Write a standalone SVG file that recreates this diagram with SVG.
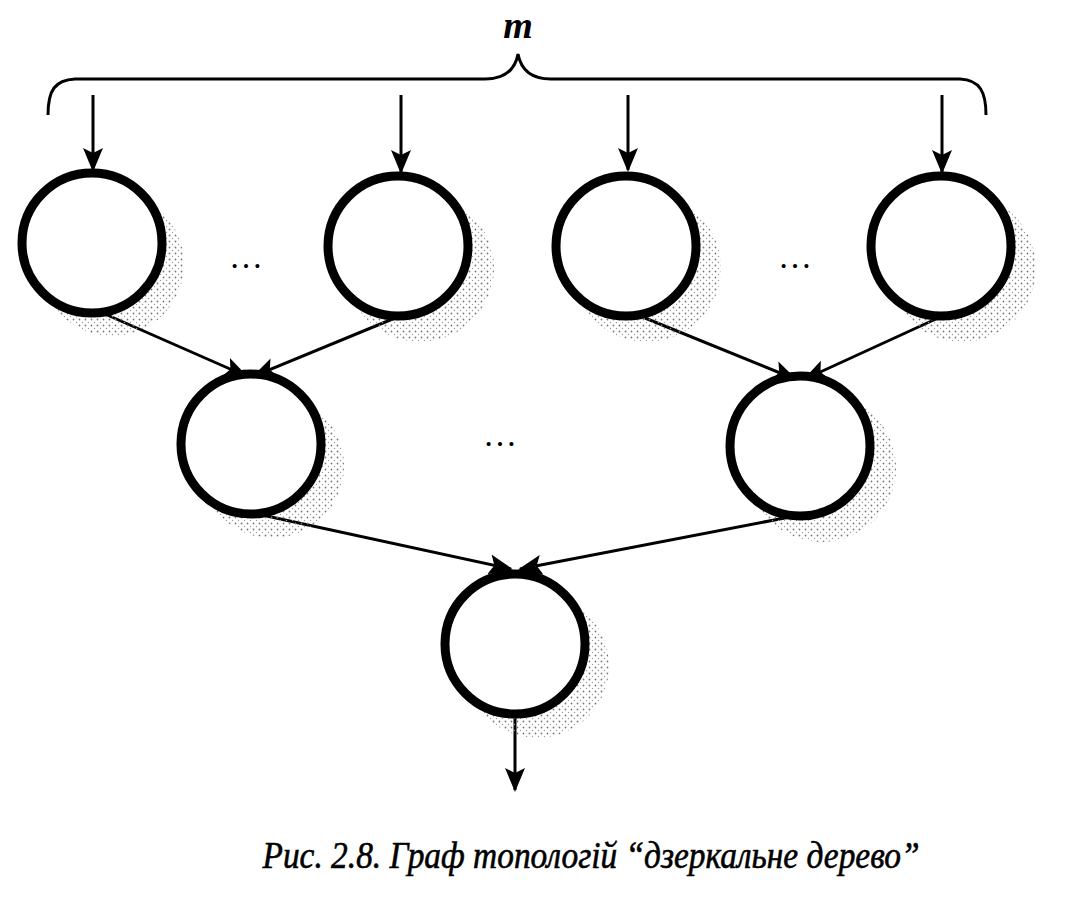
<svg xmlns="http://www.w3.org/2000/svg" width="1065" height="905" viewBox="0 0 1065 905">
<defs>
<style>
.node{fill:#fff;stroke:#000;stroke-width:9}
.shadow{fill:url(#dots)}
.edge{stroke:#000;stroke-width:3;fill:none}
.dots{font-family:"Liberation Serif",serif;font-size:34px;fill:#000}
</style>
<pattern id="dots" width="6" height="6" patternUnits="userSpaceOnUse">
<circle cx="1.5" cy="1.5" r="0.9" fill="#777"/>
<circle cx="4.5" cy="4.5" r="0.7" fill="#999"/>
</pattern>
<marker id="arr" markerWidth="24" markerHeight="20" refX="22" refY="10" orient="auto" markerUnits="userSpaceOnUse">
<path d="M0,0 L24,10 L0,20 L5,10 Z" fill="#000"/>
</marker>
</defs>
<rect width="1065" height="905" fill="#fff"/>

<text x="518" y="38" text-anchor="middle" font-family="Liberation Serif,serif" font-style="italic" font-weight="bold" font-size="38">m</text>
<path d="M48,115 C48,90 55,80 75,79 L485,79 C505,79 515,70 518,54 C521,70 531,79 551,79 L960,79 C980,80 986,92 986,115" class="edge"/>

<g id="connectors">
<line x1="93" y1="95" x2="93" y2="170" class="edge" marker-end="url(#arr)"/>
<line x1="401" y1="95" x2="401" y2="172" class="edge" marker-end="url(#arr)"/>
<line x1="628" y1="95" x2="628" y2="170" class="edge" marker-end="url(#arr)"/>
<line x1="942" y1="95" x2="942" y2="172" class="edge" marker-end="url(#arr)"/>
<line x1="105" y1="314" x2="246" y2="376" class="edge" marker-end="url(#arr)"/>
<line x1="395" y1="318" x2="254" y2="376" class="edge" marker-end="url(#arr)"/>
<line x1="645" y1="318" x2="795" y2="379" class="edge" marker-end="url(#arr)"/>
<line x1="938" y1="318" x2="805" y2="379" class="edge" marker-end="url(#arr)"/>
<line x1="262" y1="515" x2="511" y2="569" class="edge" marker-end="url(#arr)"/>
<line x1="790" y1="517" x2="520" y2="569" class="edge" marker-end="url(#arr)"/>
<line x1="515" y1="716" x2="515" y2="790" class="edge" marker-end="url(#arr)"/>
</g>

<g id="n1"><circle cx="112" cy="264" r="72" class="shadow"/><circle cx="92" cy="243" r="70" class="node"/></g>
<g id="n2"><circle cx="420" cy="268" r="74" class="shadow"/><circle cx="398" cy="246" r="70" class="node"/></g>
<g id="n3"><circle cx="647" cy="268" r="74" class="shadow"/><circle cx="626" cy="246" r="70" class="node"/></g>
<g id="n4"><circle cx="962" cy="268" r="74" class="shadow"/><circle cx="941" cy="246" r="70" class="node"/></g>
<g id="n5"><circle cx="272" cy="466" r="72" class="shadow"/><circle cx="251" cy="444" r="70" class="node"/></g>
<g id="n6"><circle cx="822" cy="468" r="74" class="shadow"/><circle cx="800" cy="446" r="70" class="node"/></g>
<g id="n7"><circle cx="537" cy="666" r="72" class="shadow"/><circle cx="515" cy="644" r="70" class="node"/></g>

<text x="246" y="268" text-anchor="middle" class="dots">…</text>
<text x="795" y="268" text-anchor="middle" class="dots">…</text>
<text x="500" y="446" text-anchor="middle" class="dots">…</text>

<text x="591" y="868" text-anchor="middle" font-family="Liberation Serif,serif" font-style="italic" font-size="37" stroke="#000" stroke-width="0.6" textLength="657" lengthAdjust="spacingAndGlyphs">Рис. 2.8. Граф топологій “дзеркальне дерево”</text>
</svg>
